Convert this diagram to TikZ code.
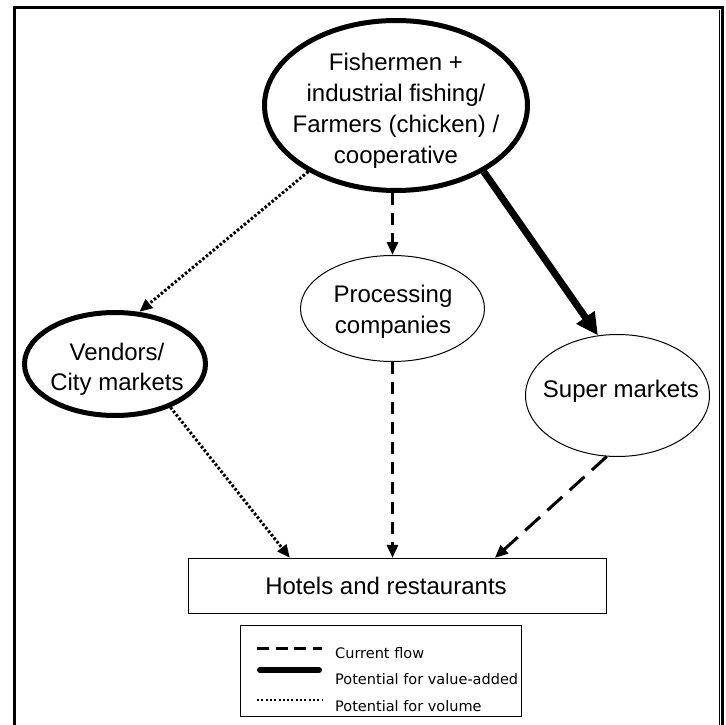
\documentclass[tikz,border=0pt]{standalone}
\usepackage{fontspec}
\setmainfont{Liberation Sans}
\newfontfamily\legendfont{DejaVu Sans}
\usetikzlibrary{arrows.meta,shapes.geometric}

\begin{document}
\begin{tikzpicture}[x=1pt,y=-1pt,
  bigtext/.style={font=\fontsize{24}{31}\selectfont, align=center, inner sep=0pt},
  oval/.style={ellipse, draw, inner sep=0pt, fill=white},
  thickoval/.style={oval, line width=5pt},
  thinoval/.style={oval, line width=1pt},
  tipsmall/.style={-{Triangle[length=13pt,width=11pt]}},
  flowcur/.style={tipsmall, line width=3pt, dash pattern=on 12pt off 8pt},
  flowcurlong/.style={tipsmall, line width=3pt, dash pattern=on 20pt off 10pt},
  flowvol/.style={tipsmall, line width=3pt, dash pattern=on 2.5pt off 2pt},
  flowval/.style={line width=7pt, -{Triangle[length=22pt,width=21pt]}},
  legendtext/.style={font=\legendfont\fontsize{14.5}{16}\selectfont, anchor=west, inner sep=0pt},
]
\useasboundingbox (0,0) rectangle (726,725);

% outer frame, open at the bottom
\draw[line width=3pt, line join=miter] (14,725) -- (14,8) -- (722,8) -- (722,725);
\draw[line width=0.8pt] (719,10) -- (719,725);

% chain members
\node[thickoval, minimum width=263pt, minimum height=170pt] (farm) at (396,105.5) {};
\node[bigtext] (farmtext) at (396,111) {Fishermen +\\industrial fishing/\\Farmers (chicken) /\\cooperative};

\node[thickoval, minimum width=181pt, minimum height=103pt] (vend) at (115,364) {};
\node[bigtext, font=\fontsize{24}{30}\selectfont] (vendtext) at (117,369) {Vendors/\\City markets};

\node[thinoval, minimum width=184pt, minimum height=106pt] (proc) at (392.5,308.5) {};
\node[bigtext, font=\fontsize{24}{31}\selectfont] (proctext) at (393,312) {Processing\\companies};

\node[thinoval, minimum width=184pt, minimum height=122pt] (super) at (617.5,395.5) {};
\node[bigtext] (supertext) at (621,391) {Super markets};

\node[draw, line width=1.2pt, minimum width=418pt, minimum height=55pt, inner sep=0pt] (hotels) at (397.5,586) {};
\node[bigtext] (hoteltext) at (386,586) {Hotels and restaurants};

% flows
\draw[flowvol] (farm.217) -- (vend.65);
\draw[flowcur] (proc.north |- farm.south) -- (proc.north);
\draw[flowval] (farm.323) -- (super.108);
\draw[flowvol] (vend.322) -- ([xshift=102pt]hotels.north west);
\draw[flowcur] (proc.south) -- (proc.south |- hotels.north);
\draw[flowcurlong] (super.260) -- ([xshift=307pt]hotels.north west);

% legend
\node[draw, line width=1pt, minimum width=281pt, minimum height=91pt, inner sep=0pt] (legend) at (381,671) {};
\draw[line width=3pt, dash pattern=on 12pt off 6.5pt] (257,648) -- (322,648);
\draw[line width=6pt, line cap=round] (260,670) -- (319,670);
\draw[line width=2pt, dash pattern=on 2pt off 2.3pt] (257,700) -- (322,700);
\node[legendtext] (lgcur) at (335,653) {Current flow};
\node[legendtext] (lgval) at (335,679) {Potential for value-added};
\node[legendtext] (lgvol) at (335,706) {Potential for volume};
\end{tikzpicture}
\end{document}
